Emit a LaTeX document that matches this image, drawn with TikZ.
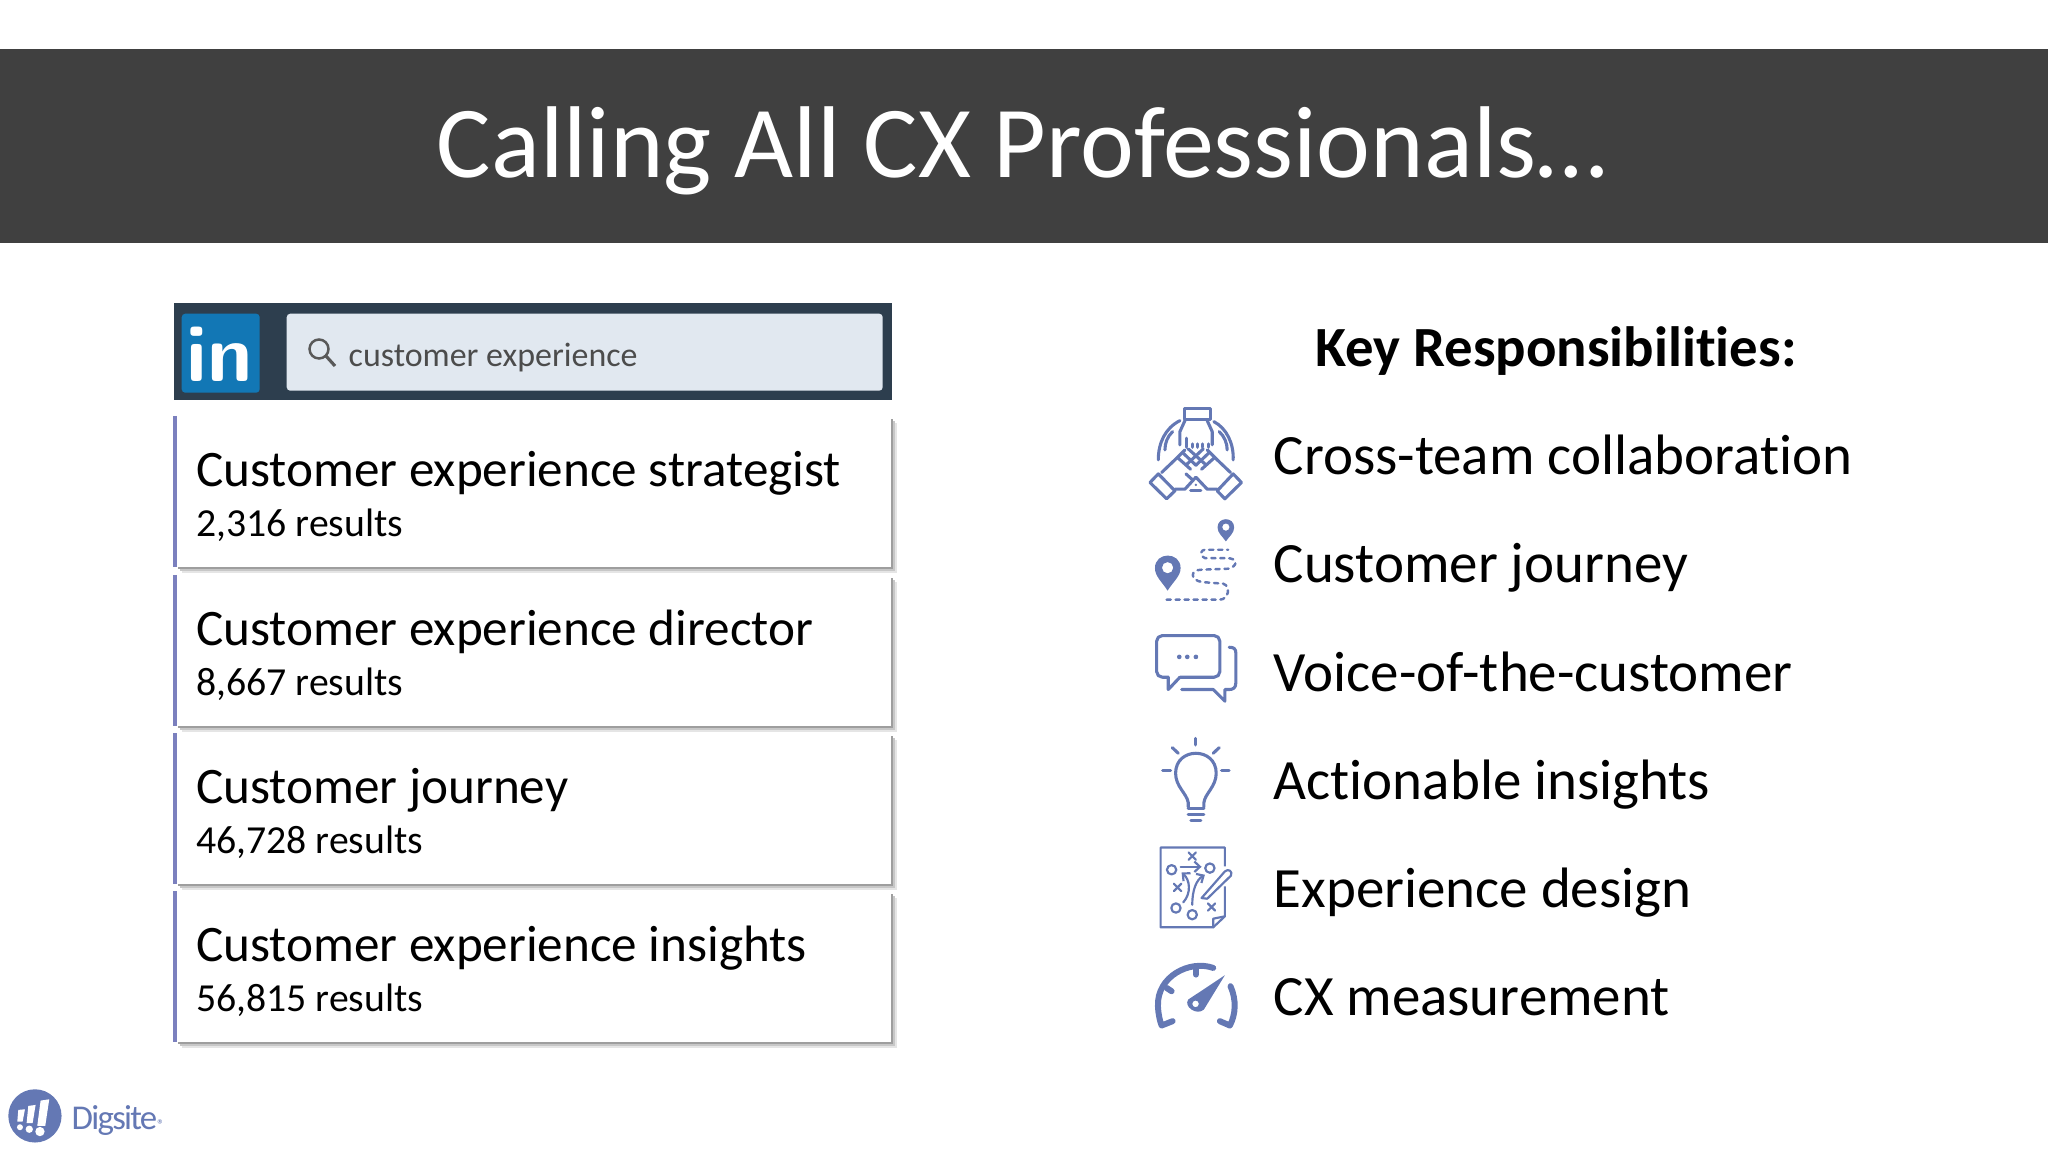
\documentclass[tikz,border=0pt]{standalone}
\usepackage{fontspec}
\setmainfont{Carlito}[Ligatures=NoCommon]
\usetikzlibrary{shadows,arrows.meta}
\definecolor{barGray}{HTML}{404040}
\definecolor{searchDark}{HTML}{2D3E4E}
\definecolor{searchFill}{HTML}{E1E8F0}
\definecolor{linkBlue}{HTML}{1277B5}
\definecolor{stripeBlue}{HTML}{7B80BE}
\definecolor{iconBlue}{HTML}{6478B4}
\tikzset{card/.style = {fill=white, rectangle, minimum width=715*0.01cm, minimum height=150*0.01cm, anchor=north west, inner sep=0pt,
                        general shadow={shadow xshift=1.7pt, shadow yshift=-1.7pt, fill=black!10},
                        general shadow={shadow xshift=1.1pt, shadow yshift=-1.1pt, fill=black!22},
                        general shadow={shadow xshift=0.6pt, shadow yshift=-0.6pt, fill=black!38}},
         stripe/.style = {stripeBlue, line width=1.2pt},
         jobtitle/.style = {anchor=base west, inner sep=0pt, font=\fontsize{14.55}{18}\selectfont},
         jobcount/.style = {anchor=base west, inner sep=0pt, font=\fontsize{11.3}{14}\selectfont},
         duty/.style = {anchor=base west, inner sep=0pt, font=\fontsize{16.2}{18}\selectfont},
         iconarea/.style = {shift={(#1)}, x=0.003333cm, y=-0.003333cm},
         iconline/.style = {iconBlue, line width=0.88pt, line cap=round, line join=round}}
\begin{document}
\begin{tikzpicture}[x=0.01cm,y=-0.01cm]
    \useasboundingbox(0,0)rectangle(2048,1152);
    % title
    \node[fill=barGray, minimum width=2070*0.01cm, minimum height=194*0.01cm, inner sep=0pt, anchor=north west](bar)at(-10,48){};
    \node[white, anchor=base, inner sep=0pt, font=\fontsize{29}{34}\selectfont](title)at(1022,178){Calling All CX Professionals\ldots};
    % search bar
    \node[fill=searchDark, minimum width=718*0.01cm, minimum height=97*0.01cm, inner sep=0pt, anchor=north west](search)at(173,302){};
    \node[fill=linkBlue, rounded corners=1pt, minimum width=78*0.01cm, minimum height=79*0.01cm, inner sep=0pt, anchor=north west](linkin)at(181,313){};
    \node[white, inner sep=0pt, font=\fontsize{23}{26}\selectfont\bfseries\sffamily](linktext)at(220,354){in};
    \node[fill=searchFill, rounded corners=1pt, minimum width=596*0.01cm, minimum height=77*0.01cm, inner sep=0pt, anchor=north west](searchbox)at(286,313){};
    \node[anchor=base west, inner sep=0pt, text=black!70, font=\fontsize{9.65}{12}\selectfont](searchtext)at(348,367){customer experience};
    \draw[black!65, line width=0.7pt](319,349)circle(9.5);
    \draw[black!65, line width=0.9pt](326,356)--(335,366);
    % cards
    \node[card](cardA)at(175,416){};
    \node[card](cardB)at(175,575){};
    \node[card](cardC)at(175,733){};
    \node[card](cardD)at(175,891){};
    \draw[stripe](cardA.north west)--(cardA.south west);
    \draw[stripe](cardB.north west)--(cardB.south west);
    \draw[stripe](cardC.north west)--(cardC.south west);
    \draw[stripe](cardD.north west)--(cardD.south west);
    \node[jobtitle](titleA)at(195.5,487){Customer experience strategist};
    \node[jobcount](countA)at(195.5,536.5){2,316 results};
    \node[jobtitle](titleB)at(195.5,646){Customer experience director};
    \node[jobcount](countB)at(195.5,695.5){8,667 results};
    \node[jobtitle](titleC)at(195.5,803.5){Customer journey};
    \node[jobcount](countC)at(195.5,853.5){46,728 results};
    \node[jobtitle](titleD)at(195.5,961.5){Customer experience insights};
    \node[jobcount](countD)at(195.5,1011.5){56,815 results};
    % responsibilities
    \node[anchor=base, inner sep=0pt, font=\fontsize{16.15}{18}\selectfont\bfseries](keyhead)at(1556,367){Key Responsibilities:};
    \node[duty](dutyA)at(1273,475){Cross-team collaboration};
    \node[duty](dutyB)at(1273,583){Customer journey};
    \node[duty](dutyC)at(1273,691){Voice-of-the-customer};
    \node[duty](dutyD)at(1273,799){Actionable insights};
    \node[duty](dutyE)at(1273,907){Experience design};
    \node[duty](dutyF)at(1273,1015){CX measurement};
    % hands
    \begin{scope}[iconarea={1130,390}]
        \draw[iconline](163,55)rectangle(243,88);
        \draw[iconline](165,92)--(150,125)--(150,165);
        \draw[iconline](232,92)--(247,125)--(247,165);
        \draw[iconline](170,145)--(170,172);
        \draw[iconline](187,162)--(187,172);
        \draw[iconline](203,162)--(203,172);
        \draw[iconline](219,162)--(219,172);
        \draw[iconline](235,162)--(235,172);
        \draw[iconline](150,92)..controls(105,115)and(85,160)..(85,210);
        \draw[iconline](128,125)..controls(112,140)and(105,160)..(105,180);
        \draw[iconline](252,95)..controls(290,115)and(312,160)..(310,210);
        \draw[iconline](268,125)..controls(284,140)and(292,160)..(292,180);
        \draw[iconline](60,278)--(85,252)--(135,303)--(110,327)--cycle;
        \draw[iconline](335,278)--(310,252)--(262,303)--(285,327)--cycle;
        \draw[iconline](95,248)--(140,205)--(165,180);
        \draw[iconline](302,248)--(257,205)--(232,180);
        \draw[iconline](135,298)--(165,298)--(198,262);
        \draw[iconline](262,298)--(232,298)--(198,262);
        \draw[iconline](145,205)--(182,238);
        \draw[iconline](160,190)--(198,226);
        \draw[iconline](252,205)--(215,238);
        \draw[iconline](236,190)--(198,226);
        \draw[iconline](175,177)--(225,222);
        \draw[iconline](220,177)--(172,222);
        \draw[iconline](168,252)--(188,270);
        \fill[iconBlue](198,285)circle(4);
        \draw[iconline](182,303)--(213,303);
    \end{scope}
    % journey
    \begin{scope}[iconarea={1130,390}]
        \fill[iconBlue,even odd rule](113,603)..controls(95,575)and(75,560)..(75,535)..controls(75,485)and(152,485)..(152,535)..controls(152,560)and(130,575)..(113,603)--cycle(113,534)circle(17);
        \fill[iconBlue,even odd rule](288,455)..controls(278,440)and(263,430)..(263,413)..controls(263,380)and(313,380)..(313,413)..controls(313,430)and(298,440)..(288,455)--cycle(288,412)circle(11);
        \draw[iconline,line width=0.7pt,dash pattern=on 1.2pt off 1.35pt](110,630)--(270,630)..controls(295,630)and(305,590)..(280,582)--(215,577)..controls(180,570)and(180,540)..(215,540)--(295,537)..controls(325,530)and(325,505)..(290,505)--(225,505)..controls(205,495)and(215,480)..(225,480)--(295,480);
    \end{scope}
    % chat
    \begin{scope}[iconarea={1130,390}]
        \draw[iconline,rounded corners=1.6pt](115,863)--(80,863)--(80,738)--(270,738)--(270,863)--(150,863);
        \draw[iconline](115,863)--(115,900)--(150,863);
        \fill[iconBlue](148,802)circle(7);
        \fill[iconBlue](172,802)circle(7);
        \fill[iconBlue](198,802)circle(7);
        \draw[iconline](298,773)..controls(312,773)and(318,778)..(318,790)--(318,880)..controls(318,895)and(310,900)..(298,900)--(285,900)--(285,935)--(250,900)--(155,900);
    \end{scope}
    % bulb
    \begin{scope}[iconarea={1130,720}]
        \draw[iconline](198,55)--(198,75);
        \draw[iconline](127,83)--(145,100);
        \draw[iconline](268,83)--(250,100);
        \draw[iconline](98,153)--(122,153);
        \draw[iconline](275,153)--(298,153);
        \draw[iconline](175,262)--(175,248)..controls(170,220)and(137,200)..(137,160)..controls(137,80)and(259,80)..(259,160)..controls(259,200)and(226,220)..(222,248)--(222,262);
        \draw[iconline](175,265)--(222,265);
        \draw[iconline](175,283)--(222,283);
        \draw[iconline](183,303)--(213,303);
    \end{scope}
    % plan
    \begin{scope}[iconarea={1130,720},iconline/.append style={line width=0.62pt}]
        \draw[iconline,line cap=butt](285,440)--(285,383)--(92,383)--(92,623)--(250,623)--(285,590)--(285,500);
        \draw[iconline](250,623)--(250,597)--(285,590);
        \draw[iconline](176,398)--(198,420)(198,398)--(176,420);
        \draw[iconline](132,492)--(154,514)(154,492)--(132,514);
        \draw[iconline](234,551)--(256,573)(256,551)--(234,573);
        \draw[iconline](125,450)circle(14);
        \draw[iconline](240,445)circle(14);
        \draw[iconline](138,565)circle(14);
        \draw[iconline](187,585)circle(14);
        \draw[iconline,-{Straight Barb[length=1.6pt,width=3pt]}](152,441)--(215,441);
        \draw[iconline,-{Straight Barb[length=1.6pt,width=3pt]}](160,548)..controls(185,520)and(180,480)..(155,458);
        \draw[iconline,-{Straight Barb[length=1.6pt,width=3pt]}](187,555)..controls(187,510)and(200,480)..(225,465);
        \draw[iconline](215,535)--(285,455)..controls(295,445)and(310,455)..(303,468)--(232,537)--(215,535)--cycle;
    \end{scope}
    % gauge
    \begin{scope}[iconarea={1130,720}]
        \draw[iconline,line width=1.7pt](250,745)..controls(180,720)and(80,770)..(84,860)..controls(85,885)and(90,905)..(95,918)--(128,905);
        \draw[iconline,line width=1.7pt](302,800)..controls(320,840)and(318,885)..(300,918)--(270,905);
        \draw[iconline,line width=1.7pt](198,745)--(198,765);
        \draw[iconline,line width=1.7pt](110,805)--(125,815);
        \fill[iconBlue,even odd rule](285,767)--(222,870)..controls(200,890)and(160,860)..(175,840)--cycle(197,853)circle(10);
    \end{scope}
    % logo
    \begin{scope}[iconarea={0,1060}]
        \fill[iconBlue](105,168)circle(80);
        \fill[white](55,150)--(75,148)--(68,185)--(52,185)--cycle;
        \fill[white](85,138)--(107,135)--(98,190)--(80,190)--cycle;
        \fill[white](122,122)--(148,118)--(136,198)--(112,198)--cycle;
        \fill[white](60,202)circle(9);
        \fill[white](88,208)circle(11);
        \fill[white](120,215)circle(14);
    \end{scope}
    \node[anchor=base west, inner sep=0pt, text=iconBlue, font=\fontsize{9.9}{11}\selectfont\addfontfeature{LetterSpace=-5}](digsite)at(71,1129){Digsite{\fontsize{4}{4}\selectfont®}};
\end{tikzpicture}
\end{document}
